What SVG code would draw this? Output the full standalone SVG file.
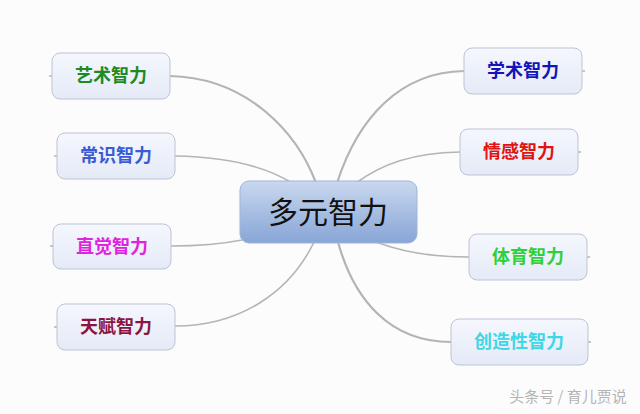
<svg xmlns="http://www.w3.org/2000/svg" width="640" height="414" viewBox="0 0 640 414">
<defs>
<linearGradient id="gNode" x1="0" y1="0" x2="0" y2="1">
<stop offset="0" stop-color="#f5f7fd"/>
<stop offset="1" stop-color="#e4eaf7"/>
</linearGradient>
<linearGradient id="gCenter" x1="0" y1="0" x2="0" y2="1">
<stop offset="0" stop-color="#c9d8ef"/>
<stop offset="1" stop-color="#87a5d6"/>
</linearGradient>
<style>
.node rect{fill:url(#gNode);stroke:#bcc3d2;stroke-width:1}
.node text{font-family:"Noto Sans CJK SC","Noto Sans",sans-serif;font-size:18px;font-weight:bold;text-anchor:middle}
.conn path{fill:none;stroke:#b4b4b4;stroke-width:1.6}
.conn .thick{stroke-width:2.2}
.stub{stroke:#c8c8c8;stroke-width:1}
</style>
</defs>
<rect width="640" height="414" fill="#fcfcfc"/>
<g id="connectors" class="conn">
<path class="thick" d="M170,76 C250,78 298,135 316,183"/>
<path d="M175,156 C230,157 268,168 292,183"/>
<path class="thick" d="M464,71 C400,72 358,118 337,183"/>
<path d="M460,152 C412,153 382,164 356,183"/>
<path d="M171,246 C200,246 222,244 242,240"/>
<path d="M175,326 C240,326 290,292 314,242"/>
<path d="M469,257 C430,257 402,252 376,242"/>
<path class="thick" d="M451,342 C390,342 354,300 338,242"/>
<path class="stub" d="M49,76 H52 M54,156 H57 M50,246 H53 M54,327 H57 M582,71 H585 M578,152 H581 M587,257 H590 M588,342 H591"/>
</g>
<g id="center">
<rect x="240" y="181" width="177" height="62" rx="9" fill="url(#gCenter)" stroke="#9fb5dc" stroke-width="1"/>
<text x="328" y="223" font-family="Noto Sans CJK SC, sans-serif" font-size="30" text-anchor="middle" fill="#111">多元智力</text>
</g>
<g id="n-yishu" class="node"><rect x="52" y="53" width="118" height="46" rx="8"/><text x="111" y="82" fill="#1d8a23">艺术智力</text></g>
<g id="n-changshi" class="node"><rect x="57" y="133" width="118" height="46" rx="8"/><text x="116" y="162" fill="#3b5bd6">常识智力</text></g>
<g id="n-zhijue" class="node"><rect x="53" y="224" width="118" height="45" rx="8"/><text x="112" y="253" fill="#e023dc">直觉智力</text></g>
<g id="n-tianfu" class="node"><rect x="57" y="304" width="118" height="46" rx="8"/><text x="116" y="333" fill="#8c1442">天赋智力</text></g>
<g id="n-xueshu" class="node"><rect x="464" y="48" width="118" height="46" rx="8"/><text x="523" y="77" fill="#1414b8">学术智力</text></g>
<g id="n-qinggan" class="node"><rect x="460" y="129" width="118" height="46" rx="8"/><text x="519" y="158" fill="#e01414">情感智力</text></g>
<g id="n-tiyu" class="node"><rect x="469" y="234" width="118" height="46" rx="8"/><text x="528" y="263" fill="#2fd03a">体育智力</text></g>
<g id="n-chuangzao" class="node"><rect x="451" y="319" width="137" height="46" rx="8"/><text x="519" y="348" fill="#3fd6e6">创造性智力</text></g>
<text x="568" y="402" font-family="Noto Sans CJK SC, sans-serif" font-size="15" text-anchor="middle" fill="#b4b4b4">头条号 / 育儿贾说</text>
</svg>
